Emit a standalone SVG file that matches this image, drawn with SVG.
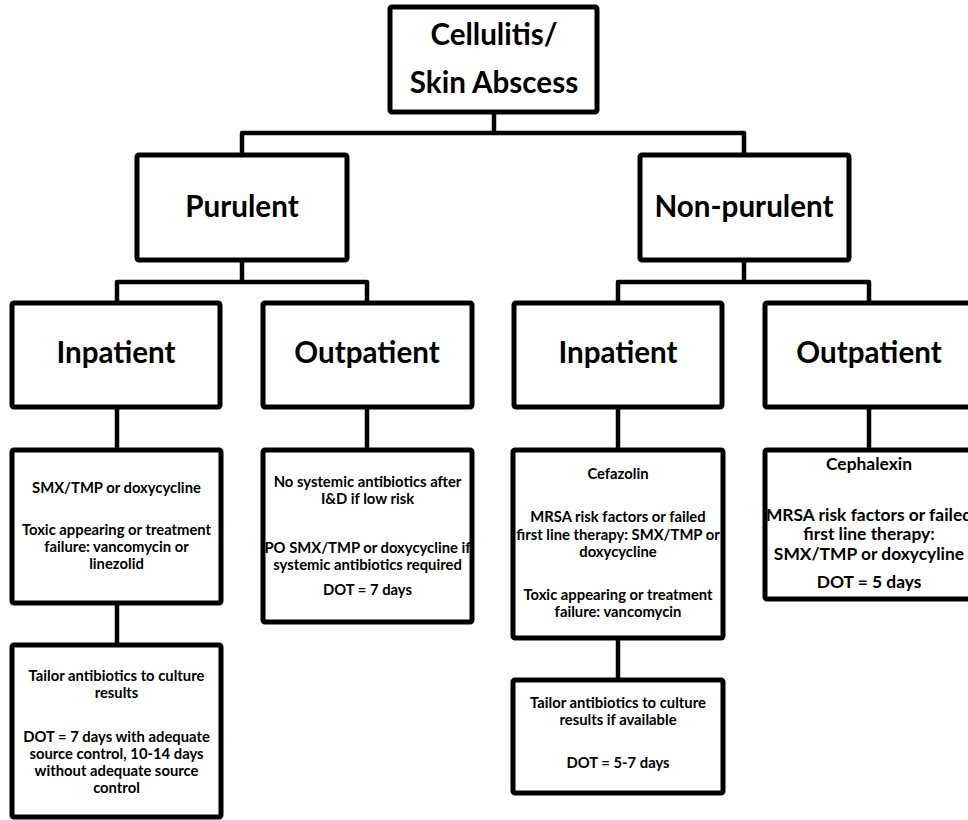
<svg xmlns="http://www.w3.org/2000/svg" width="968" height="820" viewBox="0 0 968 820">
<style>
.box{fill:#fff;stroke:#000;stroke-width:5;}
.conn{fill:none;stroke:#000;stroke-width:4.5;stroke-linejoin:round;}
text{font-family:Lato,"Liberation Sans",sans-serif;font-weight:700;fill:#000;text-anchor:middle;}
.h1{font-size:29.6px;}
.b{font-size:14.8px;}
.bl{font-size:17.4px;}
</style>
<rect width="968" height="820" fill="#fff"/>
<g id="connectors">
<path class="conn" d="M494 112 V133"/>
<path class="conn" d="M242 155 V133 H744 V155"/>
<path class="conn" d="M242 260 V282"/>
<path class="conn" d="M117 303 V282 H367 V303"/>
<path class="conn" d="M744 260 V282"/>
<path class="conn" d="M618 303 V282 H869 V303"/>
<path class="conn" d="M117 407 V450"/>
<path class="conn" d="M367 407 V450"/>
<path class="conn" d="M618 407 V450"/>
<path class="conn" d="M869 407 V450"/>
<path class="conn" d="M117 603 V645"/>
<path class="conn" d="M618 638 V680"/>
</g>
<g id="root">
<rect class="box" x="390" y="7" width="207" height="105" rx="2"/>
<text class="h1" x="494" y="45">Cellulitis/</text>
<text class="h1" x="494" y="93">Skin Abscess</text>
</g>
<g id="purulent">
<rect class="box" x="137" y="155" width="210" height="105" rx="2"/>
<text class="h1" x="242" y="217">Purulent</text>
</g>
<g id="nonpurulent">
<rect class="box" x="640" y="155" width="209" height="105" rx="2"/>
<text class="h1" x="744" y="217">Non-purulent</text>
</g>
<g id="pur-inpatient">
<rect class="box" x="12" y="303" width="208" height="104" rx="2"/>
<text class="h1" x="116" y="363">Inpatient</text>
</g>
<g id="pur-outpatient">
<rect class="box" x="263" y="303" width="209" height="104" rx="2"/>
<text class="h1" x="367" y="363">Outpatient</text>
</g>
<g id="np-inpatient">
<rect class="box" x="514" y="303" width="208" height="104" rx="2"/>
<text class="h1" x="618" y="363">Inpatient</text>
</g>
<g id="np-outpatient">
<rect class="box" x="765" y="303" width="210" height="104" rx="2"/>
<text class="h1" x="869" y="363">Outpatient</text>
</g>
<g id="pur-in-tx">
<rect class="box" x="12" y="450" width="209" height="153" rx="2"/>
<text class="b" x="116.5" y="493">SMX/TMP or doxycycline</text>
<text class="b" x="116.5" y="535">Toxic appearing or treatment</text>
<text class="b" x="116.5" y="552">failure: vancomycin or</text>
<text class="b" x="116.5" y="569">linezolid</text>
</g>
<g id="pur-in-tailor">
<rect class="box" x="12" y="645" width="209" height="172" rx="2"/>
<text class="b" x="116.5" y="681">Tailor antibiotics to culture</text>
<text class="b" x="116.5" y="698">results</text>
<text class="b" x="116.5" y="742">DOT = 7 days with adequate</text>
<text class="b" x="116.5" y="759">source control, 10-14 days</text>
<text class="b" x="116.5" y="776">without adequate source</text>
<text class="b" x="116.5" y="793">control</text>
</g>
<g id="pur-out-tx">
<rect class="box" x="263" y="450" width="209" height="172" rx="2"/>
<text class="b" x="367.5" y="487">No systemic antibiotics after</text>
<text class="b" x="367.5" y="504">I&amp;D if low risk</text>
<text class="b" x="367.5" y="553">PO SMX/TMP or doxycycline if</text>
<text class="b" x="367.5" y="570">systemic antibiotics required</text>
<text class="b" x="367.5" y="595">DOT = 7 days</text>
</g>
<g id="np-in-tx">
<rect class="box" x="513" y="450" width="210" height="188" rx="2"/>
<text class="b" x="618" y="479">Cefazolin</text>
<text class="b" x="618" y="522">MRSA risk factors or failed</text>
<text class="b" x="618" y="540">first line therapy: SMX/TMP or</text>
<text class="b" x="618" y="557">doxycycline</text>
<text class="b" x="618" y="600">Toxic appearing or treatment</text>
<text class="b" x="618" y="617">failure: vancomycin</text>
</g>
<g id="np-in-tailor">
<rect class="box" x="513" y="680" width="210" height="113" rx="2"/>
<text class="b" x="618" y="708">Tailor antibiotics to culture</text>
<text class="b" x="618" y="725">results if available</text>
<text class="b" x="618" y="768">DOT = 5-7 days</text>
</g>
<g id="np-out-tx">
<rect class="box" x="765" y="450" width="210" height="149" rx="2"/>
<text class="bl" x="869" y="470">Cephalexin</text>
<text class="bl" x="869" y="521">MRSA risk factors or failed</text>
<text class="bl" x="869" y="540">first line therapy:</text>
<text class="bl" x="869" y="560">SMX/TMP or doxycyline</text>
<text class="bl" x="869" y="588">DOT = 5 days</text>
</g>
</svg>
